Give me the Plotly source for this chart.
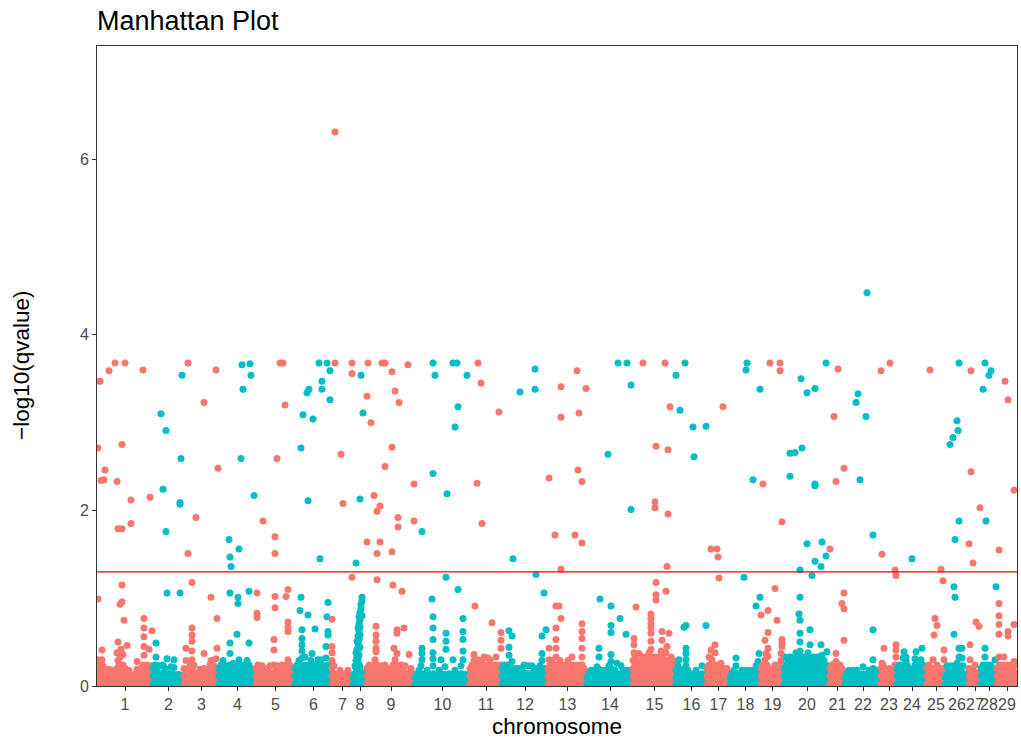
import math
import plotly.graph_objects as go

# Chromosome labels and the width each one occupies on the genome axis
chrom_names = [str(i) for i in range(1, 30)]
chrom_span = [56, 31, 35, 37, 39, 37, 21, 14, 48, 55, 32, 46, 39, 46, 43,
              31, 23, 31, 23, 46, 15, 36, 16, 30, 18, 24, 12, 16, 20]

# SNPs per chromosome: (position, (-log10 q of the SNPs at that position))
chr01 = [(1, (.03, .12, .21, .30, .99, 2.71)), (3, (.06, .15, .24, 3.47)), (4, (.02, .11, .20, 2.34)),
         (5, (.30, .41)), (6, (.05, .14, .23)), (7, (2.35,)), (8, (.02, .11, .19, 2.46)), (10, (.06, .15)),
         (12, (.02, .10, .19, 3.59)), (14, (.05, .14)), (16, (.02, .10, .18)), (18, (.06, .15, 3.68)),
         (20, (.02, .11, .20, .38, 2.33)), (21, (.29, .50, 1.79)), (22, (.06, .15, .24)), (23, (.33, .93)),
         (24, (.02, .11, .20, .42)), (25, (.96, 1.15, 1.79, 2.75)), (26, (.06, .15, .24, .36)), (27, (.75,)),
         (28, (.02, .11, .20, 3.68)), (30, (.05, .14, .46)), (32, (.02, .10, .18)), (34, (.05, .13, 1.85, 2.12)),
         (36, (.02, .09)), (38, (.05, .13)), (40, (.02, .10, .19, .28)), (42, (.06, .15)), (44, (.02, .11, .20)),
         (46, (.06, .15, .24, 3.60)), (47, (.35, .45, .56, .66, .77)), (48, (.02, .11, .20)),
         (50, (.06, .15, .24)), (52, (.02, .11, .20, .42)), (53, (2.15,)), (54, (.05, .14, .23)),
         (55, (.02, .11, .63))]
chr02 = [(0, (.02, .11, .20)), (2, (.06, .15, .24)), (3, (.33, .49)), (4, (.02, .11, .20)),
         (6, (.05, .14, .23)), (8, (.02, .11, 3.10)), (10, (.06, .15, .24, 2.24)), (12, (.02, .11, .20)),
         (13, (1.76, 2.91)), (14, (.06, .15, .31, 1.06)), (16, (.02, .11)), (18, (.05, .14, .22)),
         (20, (.02, .10)), (21, (.21, .30)), (22, (.05, .13)), (24, (.02, .10)), (26, (.05, .13)),
         (27, (1.06, 2.07, 2.09)), (28, (.02, .10, 2.59)), (29, (3.54,)), (30, (.05, .12))]
chr03 = [(0, (.02, .11, .20)), (2, (.06, .15, .29, .43)), (4, (.02, .11, .20, 1.51, 3.68)),
         (6, (.05, .14, .23)), (8, (.02, .11, .20, .30, .40, .51, .58, .66, 1.18)), (10, (.06, .15, .24)),
         (12, (.02, .11, 1.92)), (14, (.05, .14)), (16, (.02, .10, .19)), (18, (.06, .15)),
         (20, (.02, .11, .20, .37, 3.23)), (22, (.05, .14)), (24, (.02, .10, .19)), (26, (.06, .15, .24)),
         (27, (.29, 1.01)), (28, (.02, .11, .20)), (30, (.05, .14, .23)), (32, (.02, .11, .20, .31, 3.60)),
         (33, (.43, .77)), (34, (.06, .15, 2.48))]
chr04 = [(0, (.02, .11, .20)), (2, (.06, .15, .24)), (4, (.02, .11, .20, .29)), (6, (.05, .14, .23)),
         (8, (.02, .11, .20)), (10, (.06, .15, .24, 1.67)), (11, (.37, .49, 1.06, 1.47)),
         (12, (.02, .11, .20, 1.36)), (14, (.06, .15, .26)), (16, (.02, .11, .20)), (18, (.05, .14, .23, .59)),
         (19, (.94, 1.01)), (20, (.02, .11, .20, .30, 1.56)), (22, (.06, .15, .24, 2.59)), (23, (3.66,)),
         (24, (.02, .11, .20, 3.38)), (26, (.05, .14, .23)), (28, (.02, .11, .20, .29)),
         (30, (.06, .15, .24, .49, 1.08)), (31, (3.67,)), (32, (.02, .11, .20, 3.54)), (34, (.05, .14)),
         (35, (2.17,)), (36, (.02, .10))]
chr05 = [(0, (.02, .11, .20)), (1, (.78, .83, 1.06)), (2, (.06, .15, .24)), (4, (.02, .11, .20)),
         (6, (.05, .14, .23)), (7, (1.88,)), (8, (.02, .11, .20)), (10, (.06, .15)), (12, (.02, .11, .20)),
         (14, (.05, .14, .23)), (16, (.02, .11)), (18, (.06, .15, .24, .41, .53)), (19, (.89, 1.02, 1.51, 1.70)),
         (20, (.02, .11, .20)), (21, (2.59,)), (22, (.05, .14, .23)), (24, (.02, .11, .20, 3.68)),
         (26, (.06, .15, .24)), (27, (3.68,)), (28, (.02, .11, .20)), (29, (3.20,)), (30, (.05, .14, .23, 1.02)),
         (32, (.02, .11, .20, .30, .62, .67, .73, 1.10)), (34, (.06, .15, .24)), (36, (.02, .11, .20)),
         (38, (.05, .14))]
chr06 = [(0, (.02, .11, .20)), (2, (.06, .15, .24)), (4, (.02, .11, .20, .29)), (5, (.86,)),
         (6, (.05, .14, .23, 1.01, 2.71)), (7, (.32, .40, .47, .54, .64)), (8, (.02, .11, .20, 3.09)),
         (10, (.06, .15, .24, .33)), (12, (.02, .11, .20, 3.34)), (13, (.81, 2.11)), (14, (.05, .14, .23, 3.38)),
         (16, (.02, .11, .20, .29)), (17, (.37,)), (18, (.06, .15, .24, 3.04)), (20, (.02, .11, .20, .65)),
         (22, (.05, .14, .23)), (23, (.30,)), (24, (.02, .11, .20, 3.68)), (25, (1.45,)),
         (26, (.06, .15, .24, .30)), (27, (3.38, 3.47)), (28, (.02, .11, .20)), (30, (.05, .14, .23)),
         (31, (.32, .45)), (32, (.02, .11, .20, .79, 3.68)), (33, (.58, .62, .95)), (34, (.06, .15, .24)),
         (35, (3.26, 3.59)), (36, (.02, .11))]
chr07 = [(0, (.02, .11, .20, .29, .38, .45, .76)), (2, (.05, .14, .23)), (3, (3.68, 6.31)), (4, (.02, .11)),
         (6, (.05, .14)), (8, (.02, .10, .18)), (9, (2.64,)), (10, (.05, .13)), (11, (2.08,)), (12, (.02, .10)),
         (14, (.05, .14)), (16, (.02, .10, .18)), (18, (.05, .13)), (20, (.02, .10, 1.24, 3.56, 3.68))]
chr08 = [(0, (.02, .10)), (2, (.05, .14, .23)), (3, (.02, .11, .20, .29, .38, 1.40)),
         (4, (.06, .15, .24, .33, .42, .51)), (5, (.02, .11, .20, .30, .40, .48, .57, .66)),
         (6, (.06, .15, .25, .35, .45, .53, .62, .71, .79)), (7, (.03, .12, .22, .44, .58, .67, .75, .84, 2.13)),
         (8, (.07, .16, .88, .93, 3.54)), (9, (.02, .11, .80, .97, 1.01)), (10, (.05, .14, 3.11)),
         (12, (.02, .10)), (13, (.05,))]
chr09 = [(0, (.02, .11, .20, 1.64, 3.30)), (1, (3.68,)), (2, (.06, .15, .24)), (4, (.02, .11, .20, 3.00)),
         (6, (.05, .14, .23)), (7, (2.17,)), (8, (.02, .11, .20, .30)), (9, (.39, .43, .51, .58, .68)),
         (10, (.06, .15, .24, 1.21, 1.51, 1.99)), (12, (.02, .11, .20)), (13, (1.64, 2.05)), (14, (.05, .14, .23)),
         (15, (3.68,)), (16, (.02, .11, .20)), (18, (.06, .15, .24, 2.50, 3.68)), (20, (.02, .11, .20)),
         (22, (.05, .14)), (24, (.02, .11, .20)), (25, (1.53, 2.72, 3.58)), (26, (.06, .15, .24, 1.15)),
         (27, (.43,)), (28, (.02, .11, .20, .30, 3.36)), (30, (.05, .14, .23, .37, .60, .64)), (31, (1.81, 1.92)),
         (32, (.02, .11, .20, 3.23)), (34, (.06, .15, .24)), (35, (1.08,)), (36, (.02, .11, .20)), (37, (.66,)),
         (38, (.05, .14, .23)), (40, (.02, .11)), (41, (3.66,)), (42, (.06, .15, .36)), (44, (.02, .11, .20)),
         (46, (.05, .14)), (47, (1.88, 2.30))]
chr10 = [(0, (.02, .10)), (2, (.05, .14)), (4, (.02, .10, .18)), (6, (.05, .14, .23)), (7, (.30, .37, .43, 1.76)),
         (8, (.02, .10)), (10, (.05, .13)), (12, (.02, .10, .18)), (14, (.05, .13)), (16, (.02, .10)), (17, (.99,)),
         (18, (.05, .14, .23, .31, .38, .53, .66, .79, 2.42, 3.68)), (20, (.02, .10, 3.54)), (22, (.05, .13)),
         (24, (.02, .10, .18)), (26, (.05, .14, .30)), (28, (.02, .10)), (30, (.05, .13, .22)),
         (31, (.42, .51, .60, 1.24)), (32, (.02, .10, 2.19)), (34, (.05, .14)), (36, (.02, .10)),
         (38, (.05, .13, .30, 3.68)), (40, (.02, .10, .18, 2.95)), (42, (.05, .13, 3.68)), (43, (1.10, 3.18)),
         (44, (.02, .10)), (46, (.05, .14, .23)), (48, (.02, .10, .30, .40, .53, .62, .77)), (50, (.05, .13)),
         (52, (.02, .10, 3.54)), (54, (.05, .13))]
chr11 = [(0, (.02, .11, .20)), (2, (.06, .15, .24)), (4, (.02, .11, .20, .29, .36)), (5, (.91,)),
         (6, (.06, .15, .24)), (7, (2.31,)), (8, (.02, .11, .20, .30, 3.68)), (10, (.06, .15, .24)), (11, (3.45,)),
         (12, (.02, .11, .20, .29, 1.85)), (14, (.06, .15, .24, .33)), (16, (.02, .11, .20)),
         (18, (.06, .15, .24, .32)), (20, (.02, .11, .20, .29)), (22, (.06, .15, .24, .72)), (24, (.02, .11, .20)),
         (26, (.06, .15, .24, .33)), (28, (.02, .11, .20)), (29, (3.12,)), (30, (.06, .15, .24)),
         (31, (.43, .52, .61))]
chr12 = [(0, (.02, .11, .20)), (2, (.06, .15, .24)), (4, (.02, .11, .20)), (6, (.06, .15, .24)),
         (7, (.35, .44, .63)), (8, (.02, .11, .20)), (10, (.06, .15, .28, .57)), (11, (1.45,)),
         (12, (.02, .11, .20)), (14, (.05, .14)), (16, (.02, .11, .20)), (18, (.05, .14, 3.35)),
         (20, (.02, .11, .20)), (22, (.06, .15, .24)), (24, (.02, .11)), (26, (.05, .14, .23)), (28, (.02, .11)),
         (30, (.05, .14, .23)), (32, (.02, .11, .20)), (33, (3.38, 3.61)), (34, (.06, .15, 1.27)),
         (36, (.02, .11, .20)), (38, (.05, .14, .23)), (40, (.02, .11, .20, .29, .37, .57)),
         (42, (.06, .15, 1.06)), (44, (.02, .11, .20, .64)), (45, (.06, .15))]
chr13 = [(0, (.02, .11, .20)), (1, (.30, .43, 2.37)), (2, (.06, .15, .24)), (4, (.02, .11, .20, .29)),
         (6, (.06, .15, .24)), (7, (1.72,)), (8, (.02, .11, .20, .33, .43, .53, .66, .91)), (10, (.06, .15, .24)),
         (11, (.91,)), (12, (.02, .11, .20, .29)), (13, (.77, 1.33, 3.06, 3.41)), (14, (.06, .15, .24)),
         (16, (.02, .11, .20)), (18, (.06, .15, .24)), (20, (.02, .11, .20, .29)), (22, (.06, .15, .24)),
         (24, (.02, .11, .20, .33)), (26, (.06, .15, .24)), (27, (1.72,)), (28, (.02, .11, .20)), (29, (3.59,)),
         (30, (.06, .15, .24, 2.46)), (31, (3.11,)), (32, (.02, .11, .20)),
         (34, (.06, .15, .24, .33, .43, .54, .62, .71, 1.63, 2.33)), (36, (.02, .11, .20)), (38, (.06, .15, 3.39))]
chr14 = [(0, (.02, .10)), (2, (.05, .14)), (4, (.02, .10, .18)), (6, (.05, .13)), (8, (.02, .10, .18)),
         (10, (.05, .14, .22)), (12, (.02, .10, .19, .33, .43)), (13, (.99,)), (14, (.05, .14)),
         (16, (.02, .10, .18)), (18, (.05, .13)), (20, (.02, .10, .18)), (21, (2.64,)), (22, (.05, .14, .23)),
         (24, (.02, .11, .20, .28, .36, .61, .69, .91)), (26, (.05, .14)), (28, (.02, .10, .18)),
         (30, (.05, .14, .26)), (31, (3.68,)), (32, (.02, .10)), (33, (.77,)), (34, (.05, .14, .23)),
         (36, (.02, .10, .18)), (38, (.05, .13)), (39, (.59,)), (40, (.02, .10, .18, 3.68)), (42, (.05, .14)),
         (44, (.02, .10, .18, 2.01, 3.43))]
chr15 = [(0, (.02, .11, .20, .29)), (1, (.38, .47, .54)), (2, (.06, .15, .24, .33)), (3, (.90,)),
         (4, (.02, .11, .20, .29)), (6, (.06, .15, .24, .37)), (8, (.02, .11, .20, .29)),
         (10, (.06, .15, .24, .33, 3.68)), (12, (.02, .11, .20, .29)), (14, (.06, .15, .24, .33)),
         (16, (.02, .11, .20, .29, .38)), (18, (.06, .15, .24, .33, .42, .51, .60, .66, .71, .77, .82)),
         (20, (.02, .11, .20, .29)), (22, (.06, .15, .24, .33, 2.03, 2.10)), (23, (.98, 1.04, 1.18, 2.73)),
         (24, (.02, .11, .20, .29)), (26, (.06, .15, .24, .33)), (28, (.02, .11, .20, .29, .40)), (29, (.52, .62)),
         (30, (.06, .15, .24, .33)), (32, (.02, .11, .20, .29, 3.68)), (33, (.38, 1.08)),
         (34, (.06, .15, .24, .45, 1.36)), (35, (1.96, 2.69)), (36, (.02, .11, .20, .29, .60)), (37, (3.18,)),
         (38, (.06, .15, .24, .33)), (40, (.02, .11, .20, .29)), (42, (.06, .15, .24))]
chr16 = [(0, (.02, .10, .18, 3.54)), (2, (.05, .14, .23)), (3, (.30,)), (4, (.02, .10, .18, 3.14)),
         (6, (.05, .14)), (8, (.02, .10, .19, .67)), (9, (3.68,)), (10, (.05, .14, .23, .30, .37, .43, .69)),
         (12, (.02, .10, .18)), (14, (.05, .13)), (16, (.02, .10)), (17, (2.95,)), (18, (.05, .14, 2.61)),
         (20, (.02, .10, .18)), (22, (.05, .13)), (24, (.02, .10)), (26, (.05, .14, .23)), (28, (.02, .10)),
         (30, (.05, .13, .69, 2.96))]
chr17 = [(0, (.02, .11, .20)), (2, (.06, .15, .24, .33)), (4, (.02, .11, .20, .41, 1.56)), (5, (.30,)),
         (6, (.06, .15, .24)), (8, (.02, .11, .20, .38, .47)), (10, (.06, .15, .24, 1.56)), (11, (1.47,)),
         (12, (.02, .11, .20, 1.23)), (14, (.06, .15, .26)), (16, (.02, .11, .20, 3.18)), (18, (.05, .14)),
         (20, (.02, .11, .20)), (22, (.05, .14))]
chr18 = [(0, (.02, .10)), (2, (.05, .14)), (4, (.02, .10, .18)), (6, (.05, .14, .23, .32)), (8, (.02, .10)),
         (10, (.05, .14)), (12, (.02, .10, .18)), (14, (.05, .13, 1.24)), (16, (.02, .10, .18, 3.60)),
         (17, (3.68,)), (18, (.05, .14)), (20, (.02, .10, .18)), (22, (.05, .13)), (23, (2.35,)),
         (24, (.02, .10, .18)), (26, (.05, .14, .23, .91)), (28, (.02, .10, .18, .28)), (29, (.37,)),
         (30, (.05, .14, 1.01, 3.38))]
chr19 = [(0, (.02, .11, .20, .81)), (2, (.06, .15, .24, 2.30)), (4, (.02, .11, .20, .30, .52)), (5, (.37,)),
         (6, (.06, .15, .24)), (7, (.34, .43, .61, .86)), (8, (.02, .11, .20)), (9, (3.68,)), (10, (.06, .15)),
         (12, (.02, .11, .20)), (14, (.06, .15, .24, 1.11)), (16, (.02, .11, .20, .75)), (18, (.06, .15, .24)),
         (19, (3.59, 3.68)), (20, (.02, .11, .20, .29, .37)), (21, (.45, .49, .53, 1.87)), (22, (.06, .15))]
chr20 = [(0, (.02, .11, .20)), (2, (.06, .15, .24, .33)), (4, (.02, .11, .20, .29)),
         (6, (.06, .15, .24, .33, 2.39, 2.65)), (8, (.02, .11, .20, .29)), (10, (.06, .15, .24, .33)),
         (11, (2.66,)), (12, (.02, .11, .20, .29, .38)), (14, (.06, .15, .24, .33)), (15, (.82,)),
         (16, (.02, .11, .20, .29, .40, .50, .60, .75, 1.01, 1.32)), (17, (3.50,)),
         (18, (.06, .15, .24, .33, 2.71)), (20, (.02, .11, .20, .29)), (22, (.06, .15, .24, .33)),
         (23, (1.62, 3.34)), (24, (.02, .11, .20, .29, .38)), (26, (.06, .15, .24, .33, .47, .64)),
         (28, (.02, .11, .20, .29, 1.26)), (30, (.06, .15, .24, .33)), (31, (1.42, 2.28, 2.30, 3.39)),
         (32, (.02, .11, .20, .29)), (34, (.06, .15, .24, .33)), (36, (.02, .11, .20, .29)), (37, (.47, 1.36)),
         (38, (.06, .15, .24, .35, 1.64)), (40, (.02, .11, .20, .29)), (42, (.06, .15, .24, 1.48, 3.68)),
         (43, (.39,)), (44, (.02, .11, .20)), (45, (.06, .15))]
chr21 = [(0, (.02, .11, .20, 1.56)), (2, (.06, .15, .24)), (4, (.02, .11, .20, 3.07)),
         (6, (.06, .15, .28, .37, 2.33)), (8, (.02, .11, .20, 3.61)), (10, (.06, .15, .24)),
         (12, (.02, .11, .20, .94)), (14, (.06, .15, .52, .88, 1.06, 2.48))]
chr22 = [(0, (.02, .10)), (2, (.05, .14)), (4, (.02, .10, .18)), (6, (.05, .13)), (8, (.02, .10, .18)),
         (10, (.05, .14)), (11, (3.23,)), (12, (.02, .10, .18)), (13, (3.33,)), (14, (.05, .13)), (15, (2.35,)),
         (16, (.02, .10)), (18, (.05, .14, .22)), (20, (.02, .10)), (21, (3.07,)), (22, (.05, .13, 4.48)),
         (24, (.02, .10, .18)), (26, (.05, .14)), (28, (.02, .10, .20, .30, .64, 1.72)), (30, (.05, .13)),
         (32, (.02, .10, .18)), (34, (.05, .14))]
chr23 = [(0, (.02, .11, .20, 3.59)), (1, (.26, 1.50)), (2, (.06, .15, .24)), (3, (.43,)), (4, (.02, .11, .20)),
         (6, (.06, .15)), (8, (.02, .11, .20)), (9, (3.68,)), (10, (.06, .15)), (12, (.02, .11, .20)),
         (14, (.06, .15, .24, 1.32)), (15, (.33, .41, .47, 1.26))]
chr24 = [(0, (.02, .11, .20)), (2, (.06, .15, .24)), (4, (.02, .11, .20)), (6, (.06, .15, .24, .32)),
         (7, (.39,)), (8, (.02, .11, .20)), (9, (.29, .33)), (10, (.06, .15, .24)), (12, (.02, .11, .20)),
         (14, (.06, .15)), (15, (1.45,)), (16, (.02, .11, .18)), (18, (.06, .15, .24, .31)), (19, (.39,)),
         (20, (.02, .11, .20)), (22, (.06, .15, .24)), (24, (.02, .11, .20, .30)), (25, (.43,)),
         (26, (.06, .15, .24)), (28, (.02, .11))]
chr25 = [(0, (.02, .11, .20)), (2, (.06, .15, .24)), (3, (3.60,)), (4, (.02, .11, .20)), (6, (.06, .15, .30)),
         (7, (.58,)), (8, (.02, .11, .20, .77)), (10, (.06, .15, .24, .69)), (12, (.02, .11, .20)),
         (14, (.06, .15, 1.33)), (16, (.02, .11, .20, 1.20)), (17, (.30, .41))]
chr26 = [(0, (.02, .10)), (2, (.05, .14, .23)), (4, (.02, .10, .18)), (5, (2.75,)), (6, (.05, .14, .23)),
         (8, (.02, .10, .18, 2.83)), (9, (.59, 1.13)), (10, (.05, .14, .23, 1.01, 1.67)),
         (12, (.02, .10, .18, .26, 3.02)), (13, (2.91,)), (14, (.05, .14, .23, .33, .43, 1.88, 3.68)),
         (16, (.02, .10, .18)), (17, (.32, .43)), (18, (.05, .14, .23)), (20, (.02, .10)), (22, (.05, .14)),
         (23, (.02, .10))]
chr27 = [(0, (.02, .11, .20, 1.62)), (1, (.30, .47)), (2, (.06, .15, 2.44, 3.59)), (4, (.02, .11, .20, 1.40)),
         (6, (.06, .15, .24)), (7, (.73,)), (8, (.02, .11)), (10, (.06, .15, .68)), (11, (2.03,))]
chr28 = [(0, (.02, .11, .20)), (2, (.06, .15, .24, 3.38)), (4, (.02, .11, .20, .33, .43, 3.68)), (5, (1.88,)),
         (6, (.06, .15, .24)), (8, (.02, .11, .20, 3.54)), (10, (.06, .15, .24, 3.59)), (12, (.02, .11, .20)),
         (14, (.06, .15, .30)), (15, (1.13,))]
chr29 = [(0, (.02, .11, .20)), (2, (.06, .15, .24, .33, .59, .70, .80, .94, 1.55)), (4, (.02, .11, .20)),
         (6, (.06, .15, .24)), (7, (.33,)), (8, (.02, .11, .20, 3.47)), (10, (.06, .15, .24)),
         (11, (.57, .62, 3.26)), (12, (.02, .11, .20)), (14, (.06, .15, .24)), (16, (.02, .11, .20)),
         (17, (.28, .70, 2.23)), (18, (.06, .15, .24)), (19, (.02, .11))]

snps_by_chrom = [chr01, chr02, chr03, chr04, chr05, chr06, chr07, chr08, chr09, chr10,
                 chr11, chr12, chr13, chr14, chr15, chr16, chr17, chr18, chr19, chr20,
                 chr21, chr22, chr23, chr24, chr25, chr26, chr27, chr28, chr29]

q_threshold = 0.05
y_max = 7.29
palette = ["#F8766D", "#00BFC4"]

# Lay the chromosomes end to end on one cumulative axis
xs, ys, colors, centers = [], [], [], []
offset = 0
for i, (span, snps) in enumerate(zip(chrom_span, snps_by_chrom)):
    for pos, vals in snps:
        for v in vals:
            xs.append(offset + pos)
            ys.append(v)
            colors.append(palette[i % 2])
    centers.append(offset + span / 2)
    offset += span
genome_len = offset

font_family = "Liberation Sans, Arial, Helvetica, sans-serif"

fig = go.Figure()
fig.add_trace(go.Scatter(
    x=xs, y=ys, mode="markers",
    marker=dict(color=colors, size=7, line=dict(width=0)),
    showlegend=False, hoverinfo="skip",
))

# Significance threshold, -log10(0.05)
fig.add_shape(type="line", xref="paper", x0=0, x1=1, yref="y",
              y0=-math.log10(q_threshold), y1=-math.log10(q_threshold),
              line=dict(color="#FF0000", width=1.3), layer="above")

axis_common = dict(
    showline=True, linecolor="#333333", linewidth=1, mirror=True,
    ticks="outside", ticklen=4, tickcolor="#333333", tickwidth=1,
    showgrid=False, zeroline=False,
    tickfont=dict(family=font_family, size=16, color="#4D4D4D"),
)

fig.update_xaxes(range=[0, genome_len], tickmode="array", tickvals=centers,
                 ticktext=chrom_names, tickangle=0, **axis_common)
fig.update_yaxes(range=[0, y_max], tickmode="array", tickvals=[0, 2, 4, 6],
                 ticktext=["0", "2", "4", "6"], **axis_common)

fig.update_layout(
    width=1021, height=740,
    margin=dict(l=97, r=4, t=46, b=54),
    paper_bgcolor="white", plot_bgcolor="white",
    font=dict(family=font_family, color="black"),
    title=dict(text="Manhattan Plot", x=97 / 1021, xanchor="left", xref="container",
               y=1 - 21 / 740, yanchor="middle", yref="container",
               font=dict(size=27, color="black", family=font_family)),
    annotations=[
        dict(text="chromosome", xref="paper", yref="paper", x=0.5, y=-40 / 640,
             xanchor="center", yanchor="middle", showarrow=False,
             font=dict(size=22.5, color="black", family=font_family)),
        dict(text="\u2212log10(qvalue)", xref="paper", yref="paper", x=-76 / 920, y=0.5,
             xanchor="center", yanchor="middle", textangle=-90, showarrow=False,
             font=dict(size=22.5, color="black", family=font_family)),
    ],
)

fig.write_html("out.html")
